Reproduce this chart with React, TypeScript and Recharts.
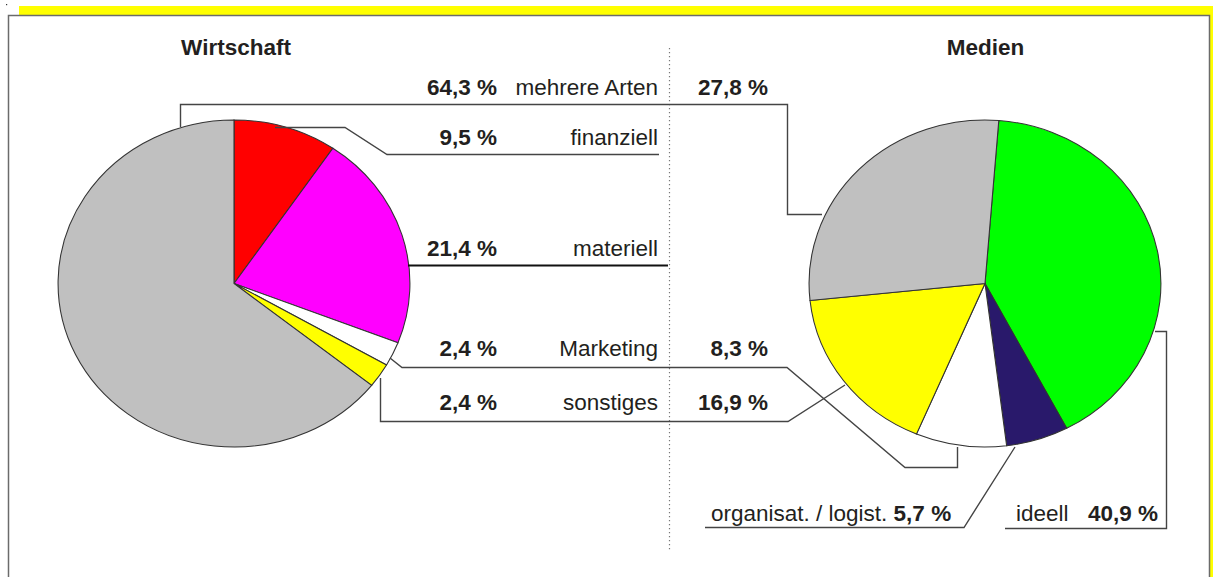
import React from 'react';
import { PieChart, Pie, Cell } from 'recharts';

// ---------- data ----------
const wirtschaftCategories = ['finanziell', 'materiell', 'Marketing', 'sonstiges', 'mehrere Arten'];
const wirtschaftValues = [9.5, 21.4, 2.4, 2.4, 64.3];
const wirtschaftColors = ['#FF0000', '#FF00FF', '#FFFFFF', '#FFFF00', '#C0C0C0'];

const medienCategories = ['ideell', 'organisat. / logist.', 'Marketing', 'sonstiges', 'mehrere Arten'];
const medienValues = [40.9, 5.7, 8.3, 16.9, 27.8];
const medienColors = ['#00FF00', '#29196B', '#FFFFFF', '#FFFF00', '#C0C0C0'];

const titles = ['Wirtschaft', 'Medien'];
// rows of the central label table (category order, top to bottom)
const tableCategories = ['mehrere Arten', 'finanziell', 'materiell', 'Marketing', 'sonstiges'];

// ---------- layout ----------
const W = 1213;
const H = 577;
const SX = 1.076; // horizontal stretch of the original pies
const FONT = '"Liberation Sans", Arial, Helvetica, sans-serif';
const FS = 22.5;
const TXT = '#231F20';
const rowBaselines = [95, 145, 256, 356, 410];

const fmt = (v: number) => `${v.toFixed(1).replace('.', ',')} %`;

const wirtschaftData = wirtschaftCategories.map((name, i) => ({ name, value: wirtschaftValues[i] }));
const medienData = medienCategories.map((name, i) => ({ name, value: medienValues[i] }));

const valueOf = (cats: string[], vals: number[], c: string) => {
  const i = cats.indexOf(c);
  return i >= 0 ? vals[i] : null;
};

export default function App() {
  const lineStyle = { fill: 'none', stroke: '#444', strokeWidth: 1.4 } as const;
  return (
    <div style={{ position: 'absolute', left: 0, top: 0, width: W, height: H, overflow: 'hidden', background: '#fff' }}>
      {/* frame and yellow shadow */}
      <svg width={W} height={H} style={{ position: 'absolute', left: 0, top: 0 }}>
        <rect x={19} y={6} width={W - 19} height={H} fill="#FFFF00" />
        <rect x={8.5} y={15.5} width={1201} height={H + 10} fill="#FFFFFF" stroke="#6b6b6b" strokeWidth={1.5} />
        <rect x={6} y={4} width={1.2} height={1.2} fill="#333" />
      </svg>

      {/* pies */}
      <div style={{ position: 'absolute', left: 0, top: 0, transform: `scaleX(${SX})`, transformOrigin: '0 0' }}>
        <PieChart width={W / SX} height={H} margin={{ top: 0, right: 0, bottom: 0, left: 0 }}>
          <Pie
            data={wirtschaftData}
            dataKey="value"
            nameKey="name"
            cx={234 / SX}
            cy={283.5}
            outerRadius={163.5}
            startAngle={90}
            endAngle={-270}
            stroke="#333"
            strokeWidth={1}
            isAnimationActive={false}
          >
            {wirtschaftData.map((d, i) => (
              <Cell key={d.name} fill={wirtschaftColors[i]} />
            ))}
          </Pie>
          <Pie
            data={medienData}
            dataKey="value"
            nameKey="name"
            cx={985 / SX}
            cy={283.5}
            outerRadius={163.5}
            startAngle={85.5}
            endAngle={-274.5}
            stroke="#333"
            strokeWidth={1}
            isAnimationActive={false}
          >
            {medienData.map((d, i) => (
              <Cell key={d.name} fill={medienColors[i]} />
            ))}
          </Pie>
        </PieChart>
      </div>

      {/* annotations */}
      <svg width={W} height={H} style={{ position: 'absolute', left: 0, top: 0, pointerEvents: 'none' }}>
        <line x1={669.5} y1={48} x2={669.5} y2={551} stroke="#777" strokeWidth={1.2} strokeDasharray="1.2 2.8" />

        {/* leader lines */}
        <polyline points="180.5,127 180.5,104.5 787.5,104.5 787.5,214.5 822,214.5" {...lineStyle} />
        <polyline points="275,127.5 345,127.5 387,154.5 659,154.5" {...lineStyle} />
        <polyline points="408,265.5 668,265.5" fill="none" stroke="#111" strokeWidth={2} />
        <polyline points="390,358 402,367.5 787,367.5 905,467.5 957.5,467.5 957.5,447" {...lineStyle} />
        <polyline points="380.5,378 380.5,421.5 788,421.5 845,385" {...lineStyle} />
        <polyline points="1015,447 964,527.5 705,527.5" {...lineStyle} />
        <polyline points="1155,331.5 1166.5,331.5 1166.5,528.5 1005,528.5" {...lineStyle} />

        {/* titles */}
        <text x={236} y={55} textAnchor="middle" fontFamily={FONT} fontSize={FS} fontWeight="bold" fill={TXT}>
          {titles[0]}
        </text>
        <text x={985.5} y={55} textAnchor="middle" fontFamily={FONT} fontSize={FS} fontWeight="bold" fill={TXT}>
          {titles[1]}
        </text>

        {/* central table */}
        {tableCategories.map((c, i) => {
          const lv = valueOf(wirtschaftCategories, wirtschaftValues, c);
          const rv = c === 'mehrere Arten' || c === 'Marketing' || c === 'sonstiges'
            ? valueOf(medienCategories, medienValues, c)
            : null;
          const y = rowBaselines[i];
          return (
            <g key={c} fontFamily={FONT} fontSize={FS} fill={TXT}>
              {lv !== null && (
                <text x={497} y={y} textAnchor="end" fontWeight="bold">{fmt(lv)}</text>
              )}
              <text x={658} y={y} textAnchor="end">{c}</text>
              {rv !== null && (
                <text x={768} y={y} textAnchor="end" fontWeight="bold">{fmt(rv)}</text>
              )}
            </g>
          );
        })}

        {/* bottom labels of the Medien pie */}
        <text x={711} y={521} fontFamily={FONT} fontSize={FS} fill={TXT}>
          {medienCategories[1]}{' '}
          <tspan fontWeight="bold">{fmt(medienValues[1])}</tspan>
        </text>
        <text x={1016} y={521} fontFamily={FONT} fontSize={FS} fill={TXT}>{medienCategories[0]}</text>
        <text x={1158} y={521} textAnchor="end" fontFamily={FONT} fontSize={FS} fontWeight="bold" fill={TXT}>
          {fmt(medienValues[0])}
        </text>
      </svg>
    </div>
  );
}
